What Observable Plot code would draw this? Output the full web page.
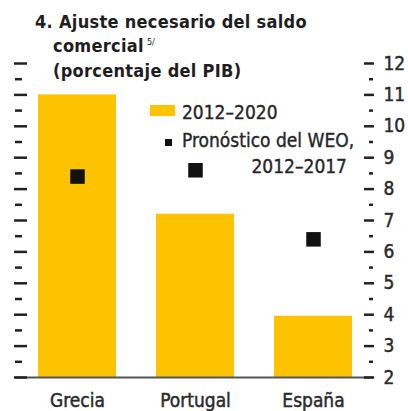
<!DOCTYPE html>
<html>
<head>
<meta charset="utf-8">
<script src="https://cdn.jsdelivr.net/npm/d3@7"></script>
<script src="https://cdn.jsdelivr.net/npm/@observablehq/plot@0.6"></script>
<style>
  html, body { margin: 0; padding: 0; background: #fff; }
  #wrap { position: relative; width: 408px; height: 411px; overflow: hidden;
    font-family: "Liberation Sans Narrow", "Arial Narrow", "DejaVu Sans Condensed", sans-serif; color: #222; }
  #wrap svg { position: absolute; left: 0; top: 0; }
  #wrap svg text { paint-order: stroke; stroke: #2a2a2a; stroke-width: 0.45px; }
  .title { position: absolute; left: 53px; top: 9.5px; width: 340px; font-size: 18px; font-weight: bold;
    line-height: 24.5px; text-indent: -18px; color: #1e1e1e; letter-spacing: 0.3px; }
  .sup { position: absolute; font-size: 9px; line-height: 9px; color: #1e1e1e; }
  .leg { position: absolute; font-size: 19px; line-height: 19px; white-space: nowrap; color: #262626;
    -webkit-text-stroke: 0.35px #262626; }
  .sw { position: absolute; }
</style>
</head>
<body>
<div id="wrap">
</div>
<script>
// ---- data ----
const countries = ["Grecia", "Portugal", "España"];
const adjust20122020 = [11.0, 7.2, 3.95];
const weo20122017 = [8.4, 8.6, 6.4];
const yDomain = [2, 12];
const majorTicks = [2, 3, 4, 5, 6, 7, 8, 9, 10, 11, 12];
const minorTicks = [2.5, 3.5, 4.5, 5.5, 6.5, 7.5, 8.5, 9.5, 10.5, 11.5];
const titleLines = ["4. Ajuste necesario del saldo", "comercial", "(porcentaje del PIB)"];
const titleNote = "5/";
const legendLabels = ["2012–2020", "Pronóstico del WEO,", "2012–2017"];

const barColor = "#fdc300";
const font = '"Liberation Sans Narrow", "Arial Narrow", "DejaVu Sans Condensed", sans-serif';

const data = countries.map((c, i) => ({country: c, adjust: adjust20122020[i], weo: weo20122017[i]}));

const chart = Plot.plot({
  width: 408,
  height: 411,
  marginTop: 63,
  marginBottom: 34,
  marginLeft: 27,
  marginRight: 45,
  style: {fontFamily: font, fontSize: "19px", color: "#2a2a2a", background: "transparent"},
  x: {domain: countries, paddingInner: 0.336, paddingOuter: 0.08, label: null},
  y: {domain: yDomain, label: null},
  marks: [
    Plot.barY(data, {x: "country", y1: yDomain[0], y2: "adjust", fill: barColor}),
    Plot.ruleY([yDomain[0]], {stroke: "#555", strokeWidth: 2, insetLeft: -12, insetRight: -10}),
    Plot.dot(data, {x: "country", y: "weo", symbol: "square", r: 8.2, fill: "#111", stroke: "none"}),
    Plot.axisY(majorTicks, {anchor: "left", tickSize: 13, strokeWidth: 2.5, stroke: "#222", tickFormat: () => "", label: null}),
    Plot.axisY(minorTicks, {anchor: "left", tickSize: 7, dx: -5, strokeWidth: 2.5, stroke: "#222", tickFormat: () => "", label: null}),
    Plot.axisY(majorTicks, {anchor: "right", tickSize: 10, tickPadding: 10, strokeWidth: 2.5, stroke: "#222", label: null, fontSize: 19, textAnchor: "start"}),
    Plot.axisY(minorTicks, {anchor: "right", tickSize: 4, dx: 5, strokeWidth: 2.5, stroke: "#222", tickFormat: () => "", label: null}),
    Plot.axisX({anchor: "bottom", tickSize: 0, tickPadding: 16, label: null, fontSize: 19})
  ]
});

const wrap = document.getElementById("wrap");
wrap.appendChild(chart);

function addDiv(cls, style, text) {
  const d = document.createElement("div");
  d.className = cls;
  Object.assign(d.style, style);
  if (text) d.textContent = text;
  wrap.appendChild(d);
  return d;
}

// title
const title = document.createElement("div");
title.className = "title";
title.innerHTML = titleLines.join("<br>");
wrap.appendChild(title);
const lineRange = document.createRange();
// place footnote mark right after "comercial"
const tn = title.childNodes[2];
lineRange.selectNodeContents(tn);
const rb = lineRange.getBoundingClientRect();
const wb = wrap.getBoundingClientRect();
addDiv("sup", {left: (rb.right - wb.left + 3) + "px", top: "38px"}, titleNote);

// legend
addDiv("sw", {left: "150px", top: "105px", width: "25px", height: "11px", background: barColor});
addDiv("leg", {left: "182px", top: "103px"}, legendLabels[0]);
addDiv("sw", {left: "165px", top: "139px", width: "7px", height: "7px", background: "#111"});
addDiv("leg", {left: "182px", top: "131px"}, legendLabels[1]);
addDiv("leg", {right: "61px", top: "157px"}, legendLabels[2]);
</script>
</body>
</html>
